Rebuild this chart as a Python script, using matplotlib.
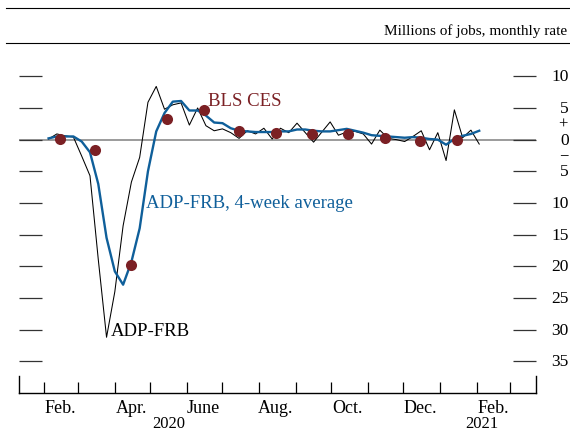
import matplotlib
matplotlib.use('Agg')
import matplotlib.pyplot as plt
import matplotlib.dates as mdates
import matplotlib.transforms as mtransforms
from matplotlib.lines import Line2D
import pandas as pd

plt.rcParams['font.family'] = ['Liberation Serif', 'DejaVu Serif']

# ADP-FRB weekly estimates, millions of jobs at a monthly rate
week_start = '2020-02-05'
adp_frb = [0.1, 0.9, 0.6, 0.4, -2.6, -5.7, -18.9, -31.2, -24.0, -13.6,
           -6.7, -2.8, 5.9, 8.4, 4.8, 5.5, 5.8, 2.3, 5.0, 2.2,
           1.4, 1.7, 1.1, 0.2, 1.4, 0.9, 1.8, 0.1, 1.8, 1.1,
           2.6, 1.1, -0.4, 1.2, 2.8, 0.7, 1.2, 1.3, 0.9, -0.7,
           1.5, 0.2, 0.0, -0.3, 0.5, 1.4, -1.6, 1.1, -3.3, 4.7,
           0.3, 1.5, -0.7]
adp_frb_4wk = [0.2, 0.5, 0.5, 0.5, -0.3, -2.0, -7.0, -15.5, -20.8, -22.9,
               -19.3, -14.0, -5.0, 1.3, 4.2, 6.0, 6.1, 4.6, 4.6, 3.8,
               2.7, 2.6, 1.8, 1.4, 1.3, 1.2, 1.2, 1.2, 1.3, 1.3,
               1.6, 1.6, 1.4, 1.3, 1.3, 1.5, 1.7, 1.4, 1.1, 0.7,
               0.6, 0.5, 0.4, 0.3, 0.4, 0.3, 0.1, 0.0, -0.8, 0.1,
               0.6, 0.9, 1.4]

# BLS CES monthly payroll change, plotted mid-month
bls_start = '2020-02-01'
bls_ces = [0.1, -1.7, -19.8, 3.3, 4.7, 1.4, 1.0, 0.9, 0.9, 0.2, -0.25, 0.0]

y_ticks = [10, 5, 0, -5, -10, -15, -20, -25, -30, -35]
month_labels = ['Feb.', 'Apr.', 'June', 'Aug.', 'Oct.', 'Dec.', 'Feb.']
month_label_dates = ['2020-02-15', '2020-04-15', '2020-06-15', '2020-08-15',
                     '2020-10-15', '2020-12-15', '2021-02-15']
years = ['2020', '2021']
year_dates = ['2020-05-17', '2021-02-05']

weeks = pd.date_range(week_start, periods=len(adp_frb), freq='7D')
bls_dates = pd.date_range(bls_start, periods=len(bls_ces), freq='MS') + pd.Timedelta(days=14)

blue = '#0F5F9A'
red = '#7B2024'

W, H = 570, 431
fig = plt.figure(figsize=(W / 100, H / 100), dpi=100)
ax = fig.add_axes([19 / W, (H - 394) / H, (536 - 19) / W, (394 - 60) / H])

ax.axhline(0, color='#8a8a8a', lw=1.2, zorder=1)
ax.plot(weeks, adp_frb, color='black', lw=0.75, zorder=2)
ax.plot(weeks, adp_frb_4wk, color=blue, lw=1.7, zorder=3)
ax.plot(bls_dates, bls_ces, 'o', color=red, ms=8, mec='none', zorder=4)

ax.set_xlim(pd.Timestamp('2020-01-11'), pd.Timestamp('2021-03-23'))
ax.set_ylim(-40, 12.73)

ax.spines['top'].set_visible(False)
ax.spines['bottom'].set_linewidth(1.0)
for s in ['left', 'right']:
    ax.spines[s].set_bounds(-40, -40 + 17 / 6.34)
    ax.spines[s].set_linewidth(1.0)

# y ticks: short dashes on both sides, labels on the right only
ax.set_yticks(y_ticks)
ax.tick_params(axis='y', which='major', direction='in', length=16.5, width=0.9,
               color='#333333', left=True, right=True, labelleft=False, labelright=False)
tr = mtransforms.blended_transform_factory(ax.transAxes, ax.transData)
for v in y_ticks:
    ax.text(1.0635, v, str(abs(v)), transform=tr, ha='right', va='center', fontsize=12.5)
ax.text(1.052, 2.55, '+', transform=tr, ha='center', va='center', fontsize=12)
ax.text(1.054, -2.4, '\u2212', transform=tr, ha='center', va='center', fontsize=12)

# x ticks: month boundaries, labels at mid-month
ax.xaxis.set_major_locator(mdates.MonthLocator())
ax.xaxis.set_major_formatter(plt.NullFormatter())
ax.tick_params(axis='x', which='major', direction='in', length=8, width=0.9)
ax.set_xticks(pd.to_datetime(month_label_dates), minor=True)
ax.set_xticklabels(month_labels, minor=True)
ax.tick_params(axis='x', which='minor', length=0, pad=4, labelsize=13)

trx = mtransforms.blended_transform_factory(ax.transData, ax.transAxes)
for yr, d in zip(years, year_dates):
    ax.text(pd.Timestamp(d), -0.089, yr, transform=trx, ha='center', va='center', fontsize=12)

# series labels
ax.text(pd.Timestamp('2020-06-19'), 5.4, 'BLS CES', color=red, fontsize=13.5, va='baseline')
ax.text(pd.Timestamp('2020-04-27'), -10.7, 'ADP-FRB, 4-week average', color=blue,
        fontsize=13.5, va='baseline')
ax.text(pd.Timestamp('2020-03-29'), -30.9, 'ADP-FRB', color='black', fontsize=13.5,
        va='baseline')

# header rules and units
fig.add_artist(Line2D([6 / W, 1], [(H - 9.3) / H] * 2, color='black', lw=0.8))
fig.add_artist(Line2D([6 / W, 1], [(H - 44.3) / H] * 2, color='black', lw=0.8))
fig.text(567 / W, (H - 34.5) / H, 'Millions of jobs, monthly rate', ha='right',
         va='baseline', fontsize=11)

fig.savefig('out.png', dpi=100)
